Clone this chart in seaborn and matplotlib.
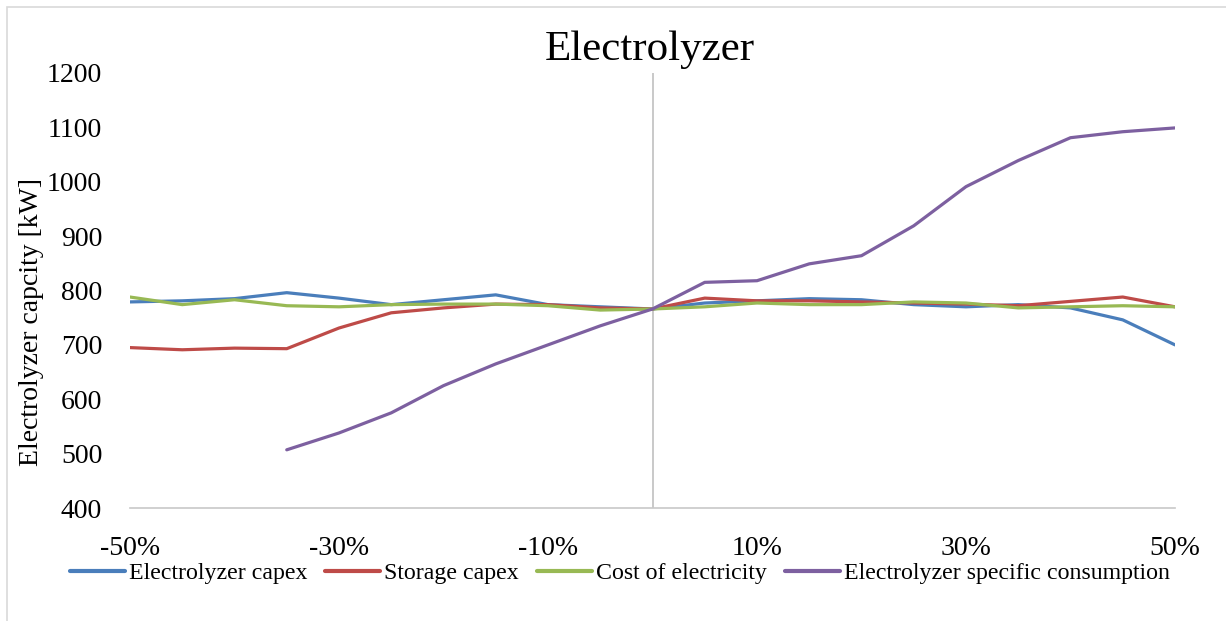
import numpy as np
import pandas as pd
import matplotlib
matplotlib.use("Agg")
import matplotlib.pyplot as plt
from matplotlib.patches import Rectangle
import seaborn as sns

# Sensitivity steps (% change of each parameter)
variation = [-50, -45, -40, -35, -30, -25, -20, -15, -10, -5, 0,
             5, 10, 15, 20, 25, 30, 35, 40, 45, 50]

electrolyzer_capex = [779, 781, 785, 796, 786, 774, 783, 792, 774, 770, 766,
                      777, 781, 785, 783, 774, 770, 774, 768, 746, 700]
storage_capex = [695, 691, 694, 693, 731, 759, 768, 775, 774, 768, 766,
                 786, 781, 781, 779, 777, 775, 772, 780, 788, 770]
cost_of_electricity = [788, 774, 783, 772, 770, 774, 775, 775, 772, 764, 766,
                       770, 777, 774, 774, 779, 777, 768, 770, 772, 770]
specific_consumption = [np.nan, np.nan, np.nan, 507, 538, 575, 625, 665, 700, 735, 766,
                        815, 818, 849, 864, 919, 991, 1039, 1081, 1092, 1099]

series_names = ["Electrolyzer capex", "Storage capex", "Cost of electricity",
                "Electrolyzer specific consumption"]
colors = ["#4A7EBB", "#BE4B48", "#98B954", "#7D60A0"]
x_ticks = [-50, -30, -10, 10, 30, 50]
x_tick_labels = ["-50%", "-30%", "-10%", "10%", "30%", "50%"]
y_ticks = [400, 500, 600, 700, 800, 900, 1000, 1100, 1200]

df = pd.concat([
    pd.DataFrame({"variation": variation, "capacity": vals, "series": name})
    for name, vals in zip(series_names,
                          [electrolyzer_capex, storage_capex,
                           cost_of_electricity, specific_consumption])
], ignore_index=True)

sns.set_style("white")
plt.rcParams["font.family"] = ["Liberation Serif", "DejaVu Serif"]
plt.rcParams["text.color"] = "black"

fig = plt.figure(figsize=(12.26, 6.21), dpi=100)
ax = fig.add_axes([130 / 1226, 1 - 508 / 621, (1175 - 130) / 1226, (508 - 73) / 621])

sns.lineplot(data=df, x="variation", y="capacity", hue="series",
             hue_order=series_names, palette=colors, linewidth=2.3,
             ax=ax, legend=False)

ax.set_xlim(-50, 50)
ax.set_ylim(400, 1200)
ax.set_xticks(x_ticks)
ax.set_xticklabels(x_tick_labels)
ax.set_yticks(y_ticks)
ax.tick_params(axis="both", labelsize=20, length=0, labelcolor="black")
ax.tick_params(axis="x", pad=20)
ax.tick_params(axis="y", pad=20)
ax.set_xlabel("")
ax.set_ylabel("")

for side in ["top", "right", "left"]:
    ax.spines[side].set_visible(False)
ax.spines["bottom"].set_color("#c8c8c8")
ax.spines["bottom"].set_linewidth(1.2)
ax.axvline(0, color="#c0c0c0", linewidth=1.2, zorder=0)

fig.text(32 / 1226, 1 - 322 / 621, "Electrolyzer capcity [kW]", fontsize=20,
         rotation=90, ha="center", va="center", color="black")
fig.text(650 / 1226, 1 - 50 / 621, "Electrolyzer", fontsize=31,
         ha="center", va="center", color="black")

handles = [plt.Line2D([], [], color=c, linewidth=3) for c in colors]
fig.legend(handles, series_names, loc="center",
           bbox_to_anchor=(620 / 1226, 1 - 573 / 621), ncol=4, frameon=False,
           fontsize=17.2, handlelength=2.3, handletextpad=0.17, columnspacing=0.75)

fig.patches.append(Rectangle((7 / 1226, -0.05), 1.2, 1 - 7 / 621 + 0.05,
                             transform=fig.transFigure, fill=False,
                             edgecolor="#d9d9d9", linewidth=1.2))

fig.savefig("out.png", dpi=100, facecolor="white")
